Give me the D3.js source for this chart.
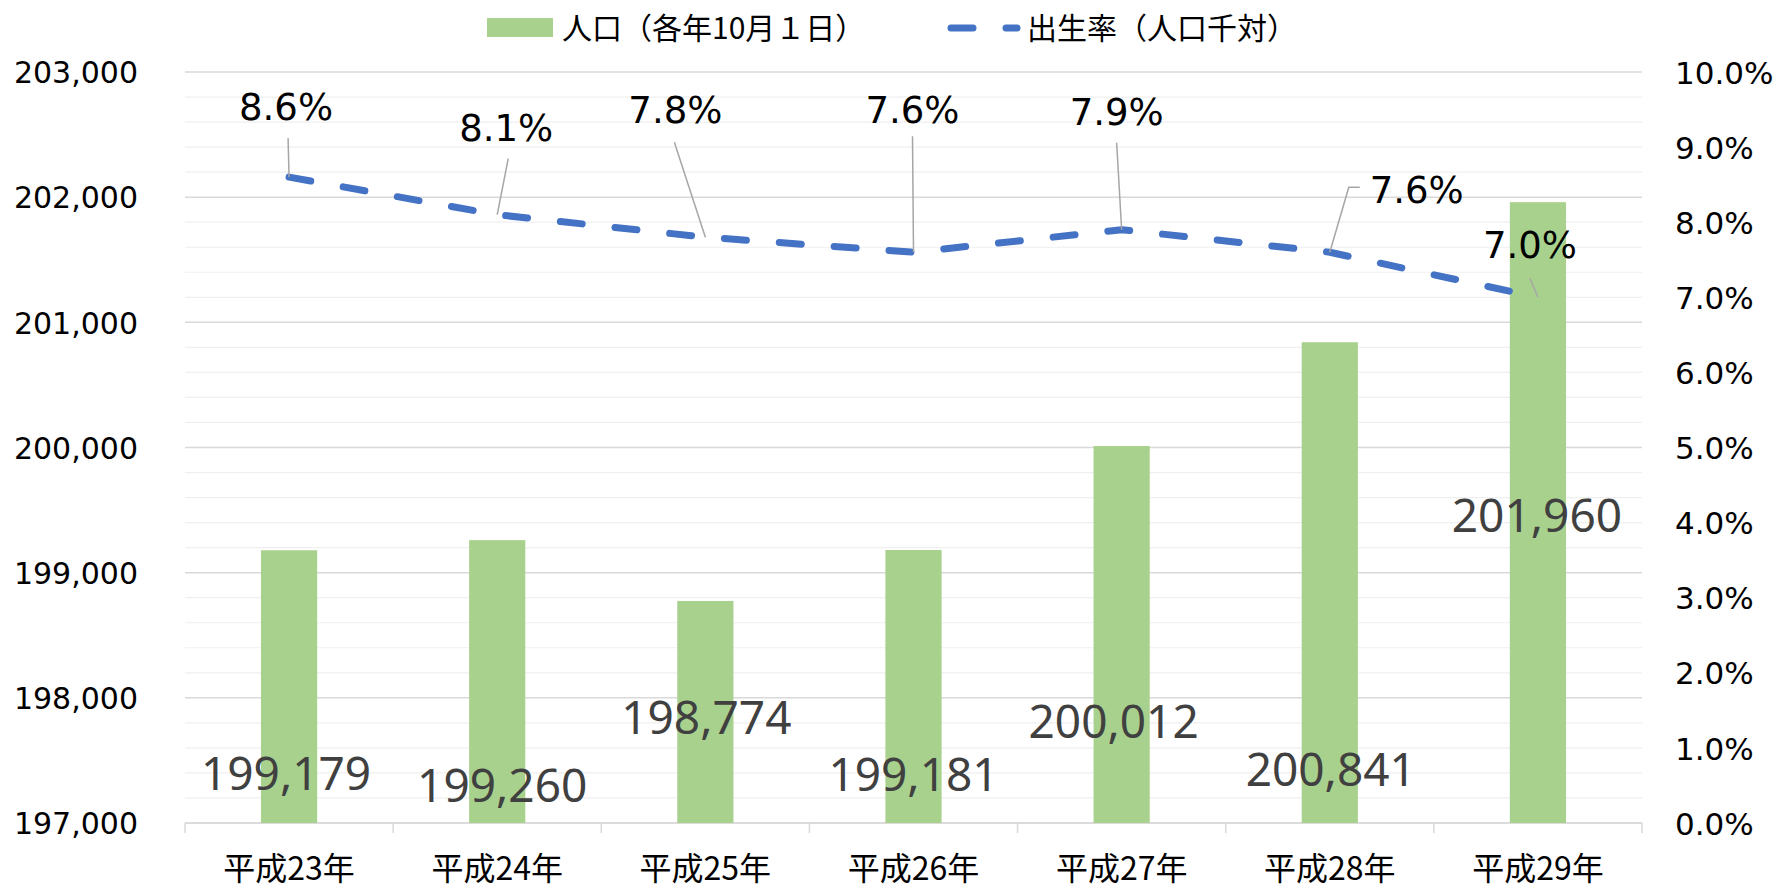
<!DOCTYPE html>
<meta charset="utf-8">
<head>
<style>
  body { margin: 0; background: #fff; }
  svg { display: block; }
  .num { font-family: "DejaVu Sans", Verdana, sans-serif; }
  .cjk { font-family: "Noto Sans CJK JP", sans-serif; }
</style>
</head>
<script src="https://d3js.org/d3.v7.min.js"></script>
<div id="chart"></div>
<script>
// data
const categories = ["平成23年", "平成24年", "平成25年", "平成26年", "平成27年", "平成28年", "平成29年"];
const population = [199179, 199260, 198774, 199181, 200012, 200841, 201960];
const birthRate = [0.086, 0.081, 0.078, 0.076, 0.079, 0.076, 0.070];
const seriesNames = ["人口（各年10月１日）", "出生率（人口千対）"];

// label placement (baseline on left axis units, dx in px)
const barLabelBase = [197264, 197168, 197712, 197256, 197680, 197296, 199328];
const barLabelDx = [-3, 5, 1, 0, -8, 1, -1];
// rate labels: offset of text baseline-centre and leader start from the point
const rateLabelOff = [[-3, -57], [9, -74], [-30, -114], [-1, -129], [-5, -105], [87, -49], [-8, -39]];
const leaderOff = [
  [[-1, -39]], [[11, -56]], [[-31, -95]], [[-1, -116]], [[-5, -87]],
  [[30, -65], [19, -65]], [[-8, -19]]
];

const W = 1781, H = 888;
const m = {left: 185, right: 1642, top: 72, bottom: 823};

const svg = d3.select("#chart").append("svg")
  .attr("width", W).attr("height", H);

const x = d3.scaleBand().domain(categories).range([m.left, m.right]);
const yL = d3.scaleLinear().domain([197000, 203000]).range([m.bottom, m.top]);
const yR = d3.scaleLinear().domain([0, 0.10]).range([m.bottom, m.top]);

// gridlines
const minor = d3.range(197000, 203001, 200);
svg.append("g").selectAll("line").data(minor).join("line")
  .attr("x1", m.left).attr("x2", m.right)
  .attr("y1", d => yL(d)).attr("y2", d => yL(d))
  .attr("stroke", d => d % 1000 === 0 ? "#d9d9d9" : "#efefef")
  .attr("stroke-width", d => d % 1000 === 0 ? 1.5 : 1.2);

// category axis
const xAxis = svg.append("g")
  .attr("transform", `translate(0,${m.bottom})`);
xAxis.append("line").attr("x1", m.left).attr("x2", m.right)
  .attr("stroke", "#d9d9d9").attr("stroke-width", 1.5);
xAxis.selectAll(".tk").data(d3.range(categories.length + 1)).join("line")
  .attr("x1", i => m.left + i * x.step()).attr("x2", i => m.left + i * x.step())
  .attr("y1", 0).attr("y2", 10)
  .attr("stroke", "#d9d9d9").attr("stroke-width", 1.5);
xAxis.selectAll("text").data(categories).join("text")
  .attr("class", "cjk")
  .attr("x", d => x(d) + x.bandwidth() / 2)
  .attr("y", 57)
  .attr("text-anchor", "middle")
  .attr("font-size", 32)
  .attr("fill", "#000")
  .text(d => d);

// left axis
const left = svg.append("g")
  .attr("transform", `translate(${m.left - 47},0)`)
  .call(d3.axisLeft(yL).tickValues(d3.range(197000, 203001, 1000)).tickFormat(d3.format(",")).tickSize(0));
left.select(".domain").remove();
left.selectAll("text").attr("class", "num").attr("font-size", 30).attr("fill", "#000")
  .attr("dy", "0.36em").attr("x", 0);

// right axis
const right = svg.append("g")
  .attr("transform", `translate(${m.right + 33},0)`)
  .call(d3.axisRight(yR).ticks(10).tickFormat(d3.format(".1%")).tickSize(0));
right.select(".domain").remove();
right.selectAll("text").attr("class", "num").attr("font-size", 31).attr("fill", "#000")
  .attr("dy", "0.36em").attr("x", 0);

// bars
const barW = x.bandwidth() * 0.27;
svg.append("g").selectAll("rect").data(population).join("rect")
  .attr("x", (d, i) => x(categories[i]) + x.bandwidth() / 2 - barW / 2)
  .attr("y", d => yL(d))
  .attr("width", barW)
  .attr("height", d => m.bottom - yL(d))
  .attr("fill", "#a9d18e");

// bar labels
svg.append("g").selectAll("text").data(population).join("text")
  .attr("font-family", "'Noto Sans', sans-serif")
  .attr("font-size", 46)
  .attr("fill", "#404040")
  .attr("text-anchor", "middle")
  .attr("x", (d, i) => x(categories[i]) + x.bandwidth() / 2 + barLabelDx[i])
  .attr("y", (d, i) => yL(barLabelBase[i]))
  .text(d => d3.format(",")(d));

// rate line
const pts = birthRate.map((d, i) => [x(categories[i]) + x.bandwidth() / 2, yR(d)]);
svg.append("path")
  .attr("d", d3.line()(pts))
  .attr("fill", "none")
  .attr("stroke", "#4472c4")
  .attr("stroke-width", 7)
  .attr("stroke-linecap", "round")
  .attr("stroke-linejoin", "round")
  .attr("stroke-dasharray", "22 33");

// leader lines
svg.append("g").selectAll("polyline").data(pts).join("polyline")
  .attr("points", (p, i) => leaderOff[i].map(o => [p[0] + o[0], p[1] + o[1]]).concat([p]).join(" "))
  .attr("fill", "none")
  .attr("stroke", "#a6a6a6")
  .attr("stroke-width", 1.5);

// rate labels
svg.append("g").selectAll("text").data(birthRate).join("text")
  .attr("class", "num")
  .attr("font-size", 37)
  .attr("fill", "#000")
  .attr("text-anchor", "middle")
  .attr("x", (d, i) => pts[i][0] + rateLabelOff[i][0])
  .attr("y", (d, i) => pts[i][1] + rateLabelOff[i][1])
  .text(d => d3.format(".1%")(d));

// legend
const lg = svg.append("g").attr("class", "cjk").attr("font-size", 30);
lg.append("rect").attr("x", 487).attr("y", 18).attr("width", 66).attr("height", 19).attr("fill", "#a9d18e");
lg.append("text").attr("x", 562).attr("y", 28).attr("dy", "0.35em").text(seriesNames[0]);
lg.append("line").attr("x1", 951).attr("x2", 1017).attr("y1", 28).attr("y2", 28)
  .attr("stroke", "#4472c4").attr("stroke-width", 7)
  .attr("stroke-linecap", "round").attr("stroke-dasharray", "22 33");
lg.append("text").attr("x", 1027).attr("y", 28).attr("dy", "0.35em").text(seriesNames[1]);
</script>
